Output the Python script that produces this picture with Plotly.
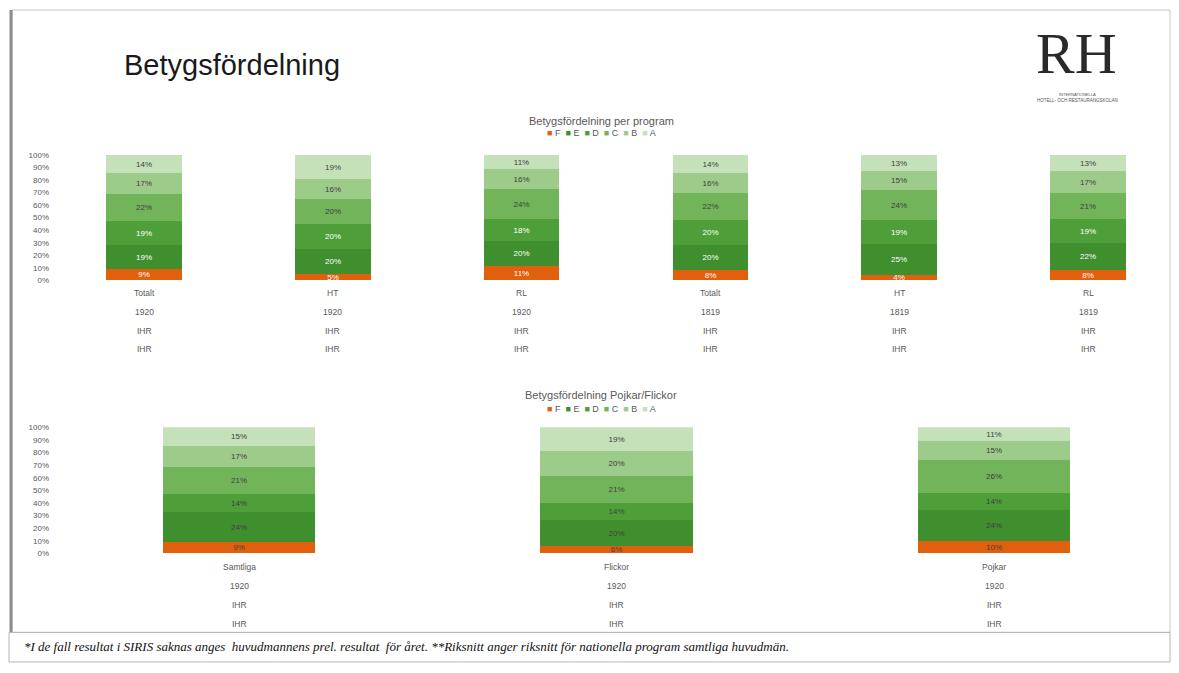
import plotly.graph_objects as go

# page body has an 8px margin: the figure is drawn so that it fills the window exactly
OFF = 8
W, H = 1179 - 2 * OFF, 673 - 2 * OFF

# ---------------- data ----------------
grades = ["F", "E", "D", "C", "B", "A"]
grade_colors = ["#E0600E", "#3F8F2F", "#4E9F3A", "#72B45A", "#9DCB8A", "#C5E1B9"]
label_colors = ["#FFFFFF", "#FFFFFF", "#FFFFFF", "#404040", "#404040", "#404040"]

prog_names = ["Totalt", "HT", "RL", "Totalt", "HT", "RL"]
prog_years = ["1920", "1920", "1920", "1819", "1819", "1819"]
prog_school = ["IHR", "IHR", "IHR", "IHR", "IHR", "IHR"]
prog_org = ["IHR", "IHR", "IHR", "IHR", "IHR", "IHR"]
prog_F = [9, 5, 11, 8, 4, 8]
prog_E = [19, 20, 20, 20, 25, 22]
prog_D = [19, 20, 18, 20, 19, 19]
prog_C = [22, 20, 24, 22, 24, 21]
prog_B = [17, 16, 16, 16, 15, 17]
prog_A = [14, 19, 11, 14, 13, 13]

gen_names = ["Samtliga", "Flickor", "Pojkar"]
gen_years = ["1920", "1920", "1920"]
gen_school = ["IHR", "IHR", "IHR"]
gen_org = ["IHR", "IHR", "IHR"]
gen_F = [9, 6, 10]
gen_E = [24, 20, 24]
gen_D = [14, 14, 14]
gen_C = [21, 21, 26]
gen_B = [17, 20, 15]
gen_A = [15, 19, 11]

y_ticks = [0, 10, 20, 30, 40, 50, 60, 70, 80, 90, 100]
y_ticktext = [f"{v}%" for v in y_ticks]

title_main = "Betygsfördelning"
title_prog = "Betygsfördelning per program"
title_gen = "Betygsfördelning Pojkar/Flickor"
footnote = ("*I de fall resultat i SIRIS saknas anges  huvudmannens prel. resultat  för året. "
            "**Riksnitt anger riksnitt för nationella program samtliga huvudmän.")

prog_series = [prog_F, prog_E, prog_D, prog_C, prog_B, prog_A]
gen_series = [gen_F, gen_E, gen_D, gen_C, gen_B, gen_A]


def px_x(px):
    return (px - OFF) / W


def px_y(py):
    return 1 - (py - OFF) / H


fig = go.Figure()

prog_x = list(range(len(prog_names)))
gen_x = list(range(len(gen_names)))

for g, col, lc, vals in zip(grades, grade_colors, label_colors, prog_series):
    fig.add_trace(go.Bar(
        x=prog_x, y=vals, name=g, marker=dict(color=col, line=dict(width=0)),
        width=0.4, text=vals, texttemplate="%{text}%", textposition="inside",
        insidetextanchor="middle", textangle=0, constraintext="none",
        textfont=dict(size=8, color=lc, family="Liberation Sans"),
        xaxis="x", yaxis="y", showlegend=False, hoverinfo="skip"))

for g, col, lc, vals in zip(grades, grade_colors, label_colors, gen_series):
    fig.add_trace(go.Bar(
        x=gen_x, y=vals, name=g, marker=dict(color=col, line=dict(width=0)),
        width=0.403, text=vals, texttemplate="%{text}%", textposition="inside",
        insidetextanchor="middle", textangle=0, constraintext="none",
        textfont=dict(size=8, color="#404040", family="Liberation Sans"),
        xaxis="x2", yaxis="y2", showlegend=False, hoverinfo="skip"))

axis_font = dict(size=8, color="#595959", family="Liberation Sans")

fig.update_layout(
    width=W, height=H,
    margin=dict(l=0, r=0, t=0, b=0),
    paper_bgcolor="white", plot_bgcolor="white",
    barmode="stack", bargap=0,
    xaxis=dict(domain=[px_x(50), px_x(1170)], range=[-0.498, 5.434],
               showticklabels=False, showgrid=False, zeroline=False,
               showline=False, ticks="", anchor="y"),
    yaxis=dict(domain=[px_y(280), px_y(153)], range=[0, 100],
               tickvals=y_ticks, ticktext=y_ticktext, tickfont=axis_font,
               showgrid=False, zeroline=False, showline=False, ticks="", anchor="x"),
    xaxis2=dict(domain=[px_x(50), px_x(1170)], range=[-0.5007, 2.466],
                showticklabels=False, showgrid=False, zeroline=False,
                showline=False, ticks="", anchor="y2"),
    yaxis2=dict(domain=[px_y(557), px_y(429)], range=[0, 100],
                tickvals=y_ticks, ticktext=y_ticktext, tickfont=axis_font,
                showgrid=False, zeroline=False, showline=False, ticks="", anchor="x2"),
)

cat_font = dict(size=8.5, color="#595959", family="Liberation Sans")
ann = []
# category label rows
for i, rows in enumerate(zip(prog_names, prog_years, prog_school, prog_org)):
    for txt, py in zip(rows, [293, 312, 331, 350]):
        ann.append(dict(x=prog_x[i], y=px_y(py), xref="x", yref="paper", text=txt,
                        showarrow=False, xanchor="center", yanchor="middle", font=cat_font))
for i, rows in enumerate(zip(gen_names, gen_years, gen_school, gen_org)):
    for txt, py in zip(rows, [571, 590, 609, 628]):
        ann.append(dict(x=gen_x[i], y=px_y(py), xref="x2", yref="paper", text=txt,
                        showarrow=False, xanchor="center", yanchor="middle", font=cat_font))

# legends (built from the series names/colours)
legend_html = "  ".join(
    f"<span style='color:{c}'>■</span> {g}" for g, c in zip(grades, grade_colors))
for py in (131, 411):
    ann.append(dict(x=px_x(601), y=px_y(py), xref="paper", yref="paper", text=legend_html,
                    showarrow=False, xanchor="center", yanchor="middle",
                    font=dict(size=9, color="#595959", family="Liberation Sans")))

# chart titles
for txt, py in ((title_prog, 119), (title_gen, 396)):
    ann.append(dict(x=px_x(601), y=px_y(py), xref="paper", yref="paper", text=txt,
                    showarrow=False, xanchor="center", yanchor="middle",
                    font=dict(size=11, color="#595959", family="Liberation Sans")))

# slide title
ann.append(dict(x=px_x(122), y=px_y(62), xref="paper", yref="paper", text=title_main,
                showarrow=False, xanchor="left", yanchor="middle",
                font=dict(size=29, color="#1a1a1a", family="Liberation Sans")))

# logo
ann.append(dict(x=px_x(1076), y=px_y(50), xref="paper", yref="paper", text="RH",
                showarrow=False, xanchor="center", yanchor="middle",
                font=dict(size=58, color="#2a2a2a", family="Liberation Serif")))
ann.append(dict(x=px_x(1077), y=px_y(92), xref="paper", yref="paper", text="INTERNATIONELLA",
                showarrow=False, xanchor="center", yanchor="middle",
                font=dict(size=4, color="#555555", family="Liberation Sans")))
ann.append(dict(x=px_x(1077), y=px_y(98), xref="paper", yref="paper",
                text="HOTELL- OCH RESTAURANGSKOLAN",
                showarrow=False, xanchor="center", yanchor="middle",
                font=dict(size=4.5, color="#555555", family="Liberation Sans")))

# footnote
ann.append(dict(x=px_x(22), y=px_y(651), xref="paper", yref="paper", text=f"<i>{footnote}</i>",
                showarrow=False, xanchor="left", yanchor="middle",
                font=dict(size=13, color="#111111", family="Liberation Serif")))

fig.update_layout(annotations=ann)

# slide frame
shapes = [
    dict(type="rect", xref="paper", yref="paper", x0=px_x(12), x1=px_x(1170),
         y0=px_y(637), y1=px_y(6), line=dict(color="#C8C8C8", width=1)),
    dict(type="line", xref="paper", yref="paper", x0=px_x(11), x1=px_x(11),
         y0=px_y(637), y1=px_y(6), line=dict(color="#8C8C8C", width=3)),
    dict(type="rect", xref="paper", yref="paper", x0=px_x(9), x1=px_x(1170),
         y0=px_y(667), y1=px_y(637), line=dict(color="#B4B4B4", width=1)),
]
fig.update_layout(shapes=shapes)

fig.write_html("out.html")
